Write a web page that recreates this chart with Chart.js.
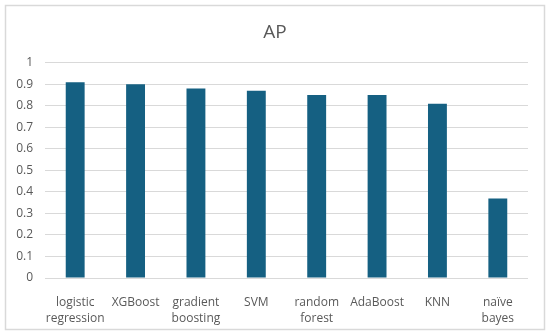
<!DOCTYPE html>
<html lang="en">
<head>
  <meta charset="UTF-8" />
  <title>AP</title>
  <script src="https://cdn.jsdelivr.net/npm/chart.js"></script>
  <style>
    html, body { margin: 0; padding: 0; background: #ffffff; }
    #wrap { width: 550px; height: 334px; position: relative; }
  </style>
</head>
<body>
  <div id="wrap">
    <canvas id="apChart" width="550" height="334"></canvas>
  </div>

  <script>
    // data
    const models = [
      ["logistic", "regression"],
      "XGBoost",
      ["gradient", "boosting"],
      "SVM",
      ["random", "forest"],
      "AdaBoost",
      "KNN",
      ["naïve", "bayes"]
    ];
    const apValues = [0.91, 0.90, 0.88, 0.87, 0.85, 0.85, 0.81, 0.37];
    const yTicks = [0, 0.1, 0.2, 0.3, 0.4, 0.5, 0.6, 0.7, 0.8, 0.9, 1];

    const textColor = "#595959";
    const gridColor = "#d9d9d9";
    const fontFamily = "'Open Sans', 'Liberation Sans', sans-serif";

    // light frame around the chart, like the Excel chart area border
    const framePlugin = {
      id: "frame",
      beforeDraw(chart) {
        const c = chart.ctx;
        c.save();
        c.fillStyle = "#ffffff";
        c.fillRect(0, 0, chart.width, chart.height);
        c.strokeStyle = gridColor;
        c.lineWidth = 1.5;
        c.strokeRect(5.5, 5.5, 539, 324);
        c.restore();
      }
    };

    new Chart(document.getElementById("apChart"), {
      type: "bar",
      data: {
        labels: models,
        datasets: [{
          label: "AP",
          data: apValues,
          backgroundColor: "#156082",
          borderWidth: 0,
          barPercentage: 0.313,
          categoryPercentage: 1
        }]
      },
      options: {
        responsive: false,
        animation: false,
        layout: { padding: 0 },
        plugins: {
          legend: { display: false },
          tooltip: { enabled: false },
          title: {
            display: true,
            text: "AP",
            color: textColor,
            font: { family: fontFamily, size: 19, weight: "normal" },
            padding: { top: 21, bottom: 19 }
          }
        },
        scales: {
          x: {
            grid: { display: false, drawTicks: false },
            border: { display: false },
            ticks: {
              color: textColor,
              font: { family: fontFamily, size: 12, lineHeight: 1.35 },
              padding: 16,
              maxRotation: 0,
              autoSkip: false
            },
            afterFit(scale) { scale.height = 56; }
          },
          y: {
            min: 0,
            max: 1,
            afterBuildTicks(scale) {
              scale.ticks = yTicks.map(v => ({ value: v }));
            },
            grid: { color: gridColor, lineWidth: 1, drawTicks: false },
            border: { display: false },
            ticks: {
              color: textColor,
              font: { family: fontFamily, size: 12 },
              padding: 12,
              callback: v => String(Math.round(v * 10) / 10)
            },
            afterFit(scale) { scale.width = 45; }
          },
          // empty right-hand spacer so the title stays centred on the canvas
          yRight: {
            position: "right",
            display: true,
            grid: { display: false, drawTicks: false },
            border: { display: false },
            ticks: { display: false },
            afterFit(scale) { scale.width = 22; }
          }
        }
      },
      plugins: [framePlugin]
    });
  </script>
</body>
</html>
